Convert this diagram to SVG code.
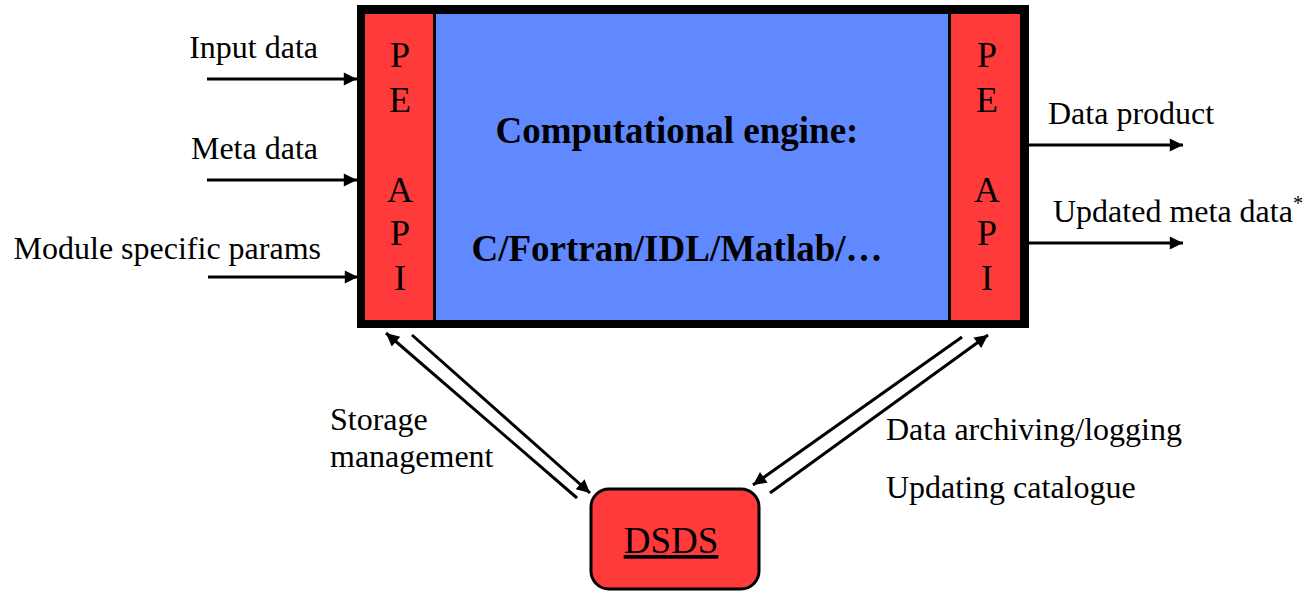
<svg xmlns="http://www.w3.org/2000/svg" width="1303" height="591" viewBox="0 0 1303 591">
  <style>
    .t { font-family: "Liberation Serif", "DejaVu Serif", serif; font-size: 32px; fill: #000; }
    .b { font-family: "Liberation Serif", "DejaVu Serif", serif; font-size: 37px; font-weight: bold; fill: #000; }
    .api { font-family: "Liberation Serif", "DejaVu Serif", serif; font-size: 36px; fill: #000; text-anchor: middle; }
    .store { font-size: 37px; text-decoration: underline; text-anchor: middle; }
    .red { fill: #ff3a3a; }
    .line { stroke: #000; stroke-width: 3; fill: none; }
  </style>
  <defs>
    <marker id="arrow" viewBox="0 0 10 10" refX="10" refY="5" markerWidth="5" markerHeight="4.4" orient="auto" markerUnits="strokeWidth">
      <path d="M0,0 L10,5 L0,10 Z" fill="#000"/>
    </marker>
  </defs>
  <rect width="1303" height="591" fill="#fff"/>

  <!-- processing element: frame, API panels and engine -->
  <g id="engine">
    <rect x="357" y="5" width="672" height="323" fill="#000"/>
    <rect x="436" y="14" width="512" height="306" fill="#6189ff"/>
    <text class="b" x="677" y="143" text-anchor="middle">Computational engine:</text>
    <text class="b" x="677" y="261" text-anchor="middle">C/Fortran/IDL/Matlab/…</text>
  </g>
  <g id="api-left">
    <rect class="red" x="365" y="14" width="68" height="306"/>
    <text class="api" x="400" y="67">P</text>
    <text class="api" x="400" y="112">E</text>
    <text class="api" x="400" y="202">A</text>
    <text class="api" x="400" y="245">P</text>
    <text class="api" x="400" y="290">I</text>
  </g>
  <g id="api-right">
    <rect class="red" x="951" y="14" width="69" height="306"/>
    <text class="api" x="987" y="67">P</text>
    <text class="api" x="987" y="112">E</text>
    <text class="api" x="987" y="202">A</text>
    <text class="api" x="987" y="245">P</text>
    <text class="api" x="987" y="290">I</text>
  </g>

  <!-- data store -->
  <g id="dsds">
    <rect class="red" x="591" y="489" width="168" height="100" rx="18" stroke="#000" stroke-width="3"/>
    <text class="t store" x="671" y="553">DSDS</text>
  </g>

  <!-- connectors -->
  <g id="connectors">
    <line class="line" x1="207" y1="79" x2="357" y2="79" marker-end="url(#arrow)"/>
    <line class="line" x1="207" y1="180" x2="357" y2="180" marker-end="url(#arrow)"/>
    <line class="line" x1="208" y1="277" x2="358" y2="277" marker-end="url(#arrow)"/>
    <line class="line" x1="1029" y1="145" x2="1183" y2="145" marker-end="url(#arrow)"/>
    <line class="line" x1="1029" y1="243" x2="1183" y2="243" marker-end="url(#arrow)"/>
    <line class="line" x1="577" y1="498" x2="386" y2="333" marker-end="url(#arrow)"/>
    <line class="line" x1="412" y1="335" x2="590" y2="493" marker-end="url(#arrow)"/>
    <line class="line" x1="962" y1="337" x2="753" y2="485" marker-end="url(#arrow)"/>
    <line class="line" x1="770" y1="493" x2="988" y2="335" marker-end="url(#arrow)"/>
  </g>

  <!-- labels -->
  <g id="labels">
    <text class="t" x="318" y="58" text-anchor="end">Input data</text>
    <text class="t" x="318" y="159" text-anchor="end">Meta data</text>
    <text class="t" x="321" y="259" text-anchor="end">Module specific params</text>
    <text class="t" x="1048" y="124">Data product</text>
    <text class="t" x="1053" y="222">Updated meta data<tspan font-size="20" dy="-12">*</tspan></text>
    <text class="t" x="330" y="430">Storage</text>
    <text class="t" x="330" y="467">management</text>
    <text class="t" x="886" y="440">Data archiving/logging</text>
    <text class="t" x="886" y="498">Updating catalogue</text>
  </g>
</svg>
